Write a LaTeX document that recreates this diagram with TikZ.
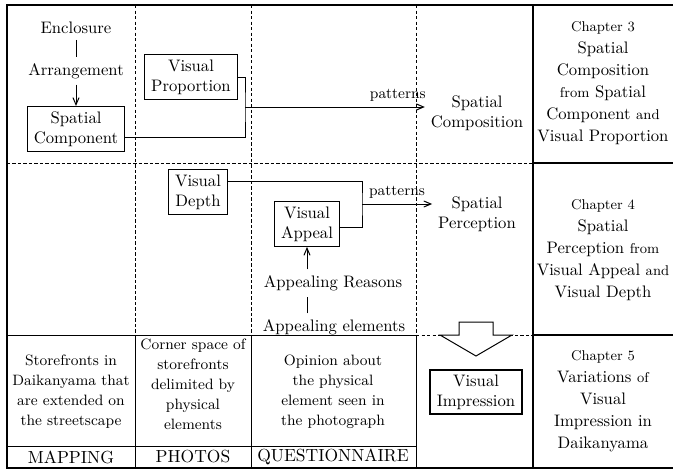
\documentclass[tikz,border=0pt]{standalone}
\usetikzlibrary{arrows}
\newcommand\smallword[1]{{\fontsize{8.5}{10}\selectfont #1}}

\begin{document}
\begin{tikzpicture}[x=0.6pt,y=-0.6pt,line width=0.6pt,>=angle 45,
    box/.style={draw,align=center,inner xsep=4pt,inner ysep=3pt},
    txt/.style={align=center},
    desc/.style={align=center,font=\fontsize{9}{12}\selectfont},
    method/.style={font=\fontsize{10.5}{12}\selectfont},
    chap/.style={align=center,font=\fontsize{10}{13.2}\selectfont},
    lbl/.style={font=\fontsize{9}{11}\selectfont},
    grid/.style={dash pattern=on 2pt off 1.3pt}]
    \useasboundingbox (0,0) rectangle (673,470);
    % frame and grid
    \draw[line width=1.1pt] (673,5) -- (7,5) -- (7,468) -- (673,468);
    \draw[grid] (135,5) -- (135,335) (251,5) -- (251,335) (416,5) -- (416,335)
        (7,163) -- (533,163) (416,335) -- (533,335);
    \draw (7,335) -- (416,335) (7,446) -- (416,446)
        (135,335) -- (135,468) (251,335) -- (251,468) (416,335) -- (416,468);
    \draw[line width=1.2pt] (533,5) -- (533,468) (533,163) -- (673,163) (533,335) -- (673,335);
    % hollow arrow
    \draw[fill=white] (459,322) -- (493,322) -- (493,335) -- (512,335) -- (476,356)
        -- (440,335) -- (459,335) -- cycle;

    \node[txt] (encl) at (76,28) {Enclosure};
    \node[txt] (arr) at (76,71) {Arrangement};
    \node[box] (spcomp) at (76,129) {Spatial\\Component};
    \node[box] (visprop) at (191,77) {Visual\\Proportion};
    \node[box] (visdepth) at (198,192) {Visual\\Depth};
    \node[box] (visappeal) at (307,224) {Visual\\Appeal};
    \node[txt] (spcompos) at (477,113) {Spatial\\Composition};
    \node[txt] (spperc) at (477,214) {Spatial\\Perception};
    \node[txt] (reasons) at (333,283) {Appealing Reasons};
    \node[txt] (elements) at (334,327) {Appealing elements};
    \node[box,line width=1.2pt] (visimp) at (476,392) {Visual\\Impression};
    \coordinate (jtop) at (245,107);
    \coordinate (jbot) at (362,204);

    \path
        (encl) edge (arr)
        (arr) edge [->] (spcomp)
        (elements.north -| visappeal) edge (reasons.south -| visappeal)
        (reasons.north -| visappeal) edge [->] (visappeal.south)
        (jtop) edge [->] node [above,lbl,pos=.85] {patterns} (jtop -| spcompos.west)
        (jbot) edge [->] node [above,lbl,pos=.5] {patterns} (jbot -| spperc.west)
    ;
    \draw (visprop.east) -| (jtop) |- ([yshift=-5pt]spcomp.east);
    \draw ([yshift=6.6pt]visdepth.east) -| (jbot) |- ([yshift=-2pt]visappeal.east);

    % methods
    \node[desc] (mapdesc) at (71,392) {Storefronts in\\Daikanyama that\\are extended on\\the streetscape};
    \node[desc] (phodesc) at (193,384) {Corner space of\\storefronts\\delimited by\\physical\\elements};
    \node[desc] (quedesc) at (333,392) {Opinion about\\the physical\\element seen in\\the photograph};
    \node[method] (map) at (71,457) {MAPPING};
    \node[method] (pho) at (193,457) {PHOTOS};
    \node[method] (que) at (333,457) {QUESTIONNAIRE};

    % chapters
    \node[chap] (ch3) at (603,83) {\smallword{Chapter 3}\\Spatial\\Composition\\\smallword{from} Spatial\\Component \smallword{and}\\Visual Proportion};
    \node[chap] (ch4) at (603,250) {\smallword{Chapter 4}\\Spatial\\Perception \smallword{from}\\Visual Appeal \smallword{and}\\Visual Depth};
    \node[chap] (ch5) at (603,401) {\smallword{Chapter 5}\\Variations \smallword{of}\\Visual\\Impression in\\Daikanyama};
\end{tikzpicture}
\end{document}
